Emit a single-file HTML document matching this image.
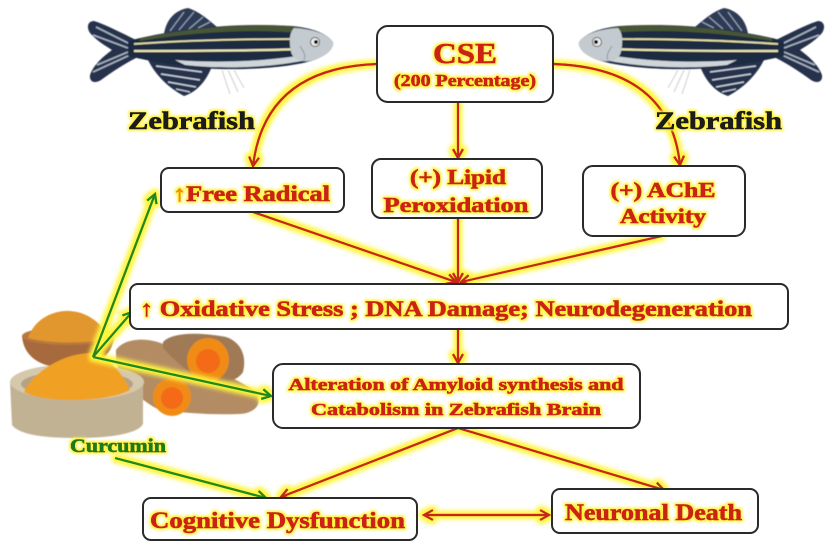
<!DOCTYPE html>
<html><head><meta charset="utf-8"><style>
html,body{margin:0;padding:0;background:#fff;}
svg{display:block;}
text{font-family:"Liberation Serif","DejaVu Serif",serif;font-weight:bold;}
</style></head><body>
<svg width="837" height="551" viewBox="0 0 837 551" xmlns="http://www.w3.org/2000/svg">
<defs>
<filter id="glow" filterUnits="userSpaceOnUse" x="0" y="0" width="837" height="551">
 <feMorphology in="SourceAlpha" operator="dilate" radius="3" result="d"/>
 <feGaussianBlur in="d" stdDeviation="2" result="b"/>
 <feFlood flood-color="#fff53a"/>
 <feComposite in2="b" operator="in" result="y"/>
 <feMerge><feMergeNode in="y"/><feMergeNode in="SourceGraphic"/></feMerge>
</filter>
<filter id="tglow" filterUnits="userSpaceOnUse" x="0" y="0" width="837" height="551">
 <feMorphology in="SourceAlpha" operator="dilate" radius="1.6" result="d"/>
 <feGaussianBlur in="d" stdDeviation="1.4" result="b"/>
 <feFlood flood-color="#fff23a"/>
 <feComposite in2="b" operator="in" result="y"/>
 <feMerge><feMergeNode in="y"/><feMergeNode in="SourceGraphic"/></feMerge>
</filter>
<filter id="soft"><feGaussianBlur stdDeviation="0.6"/></filter>
<marker id="ar" viewBox="-12 -7 14 14" refX="0" refY="0" markerWidth="14" markerHeight="14" markerUnits="userSpaceOnUse" orient="auto-start-reverse">
 <path d="M-9,-5 L0,0 L-9,5" fill="none" stroke="#c8261a" stroke-width="2.4"/>
</marker>
<marker id="ag" viewBox="-12 -7 14 14" refX="0" refY="0" markerWidth="14" markerHeight="14" markerUnits="userSpaceOnUse" orient="auto">
 <path d="M-9,-5 L0,0 L-9,5" fill="none" stroke="#1e8a1e" stroke-width="2.4"/>
</marker>
<g id="fish" filter="url(#soft)">
 <!-- tail -->
 <path d="M136,40 C120,32 104,24 94,21 C88,21 86,27 90,33 C98,42 106,46 112,50 C104,56 94,64 90,75 C89,82 95,84 101,80 C112,72 124,64 136,58 Z" fill="#26324c"/>
 <path d="M96,27 L132,45 M93,35 L128,48 M93,72 L130,55 M97,65 L128,52" stroke="#a8b4c2" stroke-width="1.6"/>
 <!-- dorsal -->
 <path d="M164,34 C166,20 175,10 188,8 C198,11 208,19 218,28 Z" fill="#2e3a54"/>
 <path d="M170,31 L184,12 M179,30 L194,12 M189,29 L203,17 M198,28 L210,22" stroke="#8e9cb0" stroke-width="1.3"/>
 <!-- anal fin -->
 <path d="M148,60 L212,66 C207,80 197,92 184,96 C167,87 155,74 148,60 Z" fill="#26324c"/>
 <path d="M156,66 L202,72 M161,74 L200,80 M168,82 L196,87 M176,89 L190,92" stroke="#c8d0da" stroke-width="1.4"/>
 <path d="M222,70 L230,94 M228,70 L238,92 M234,70 L244,88" stroke="#cfcfcf" stroke-width="1"/>
 <!-- body -->
 <path d="M128,41 C170,30 230,22 292,26 C312,28 326,33 333,42 C334,48 328,55 314,60 C290,68 240,71 200,68 C170,65 145,60 128,56 Z" fill="#1f2a42"/>
 <path d="M140,38 C190,28 250,22 300,27 L300,33 C255,29 200,31 140,41 Z" fill="#465636"/>
 <path d="M134,44 C190,40 250,39 300,39" stroke="#e6e0a4" stroke-width="1.8" fill="none"/>
 <path d="M134,51 C190,51 250,51 300,49" stroke="#ece6b0" stroke-width="2.2" fill="none"/>
 <path d="M175,60 C215,63 255,62 298,56 L302,61 C265,68 220,69 185,65 Z" fill="#cfd6da"/>
 <!-- head -->
 <path d="M294,28 C313,29 327,34 333,42 C334,48 328,55 314,60 C302,63 293,60 291,52 C289,42 289,33 294,28 Z" fill="#c4cbd0"/>
 <path d="M300,46 C304,52 306,56 304,60" stroke="#8e969c" stroke-width="1" fill="none"/>
 <circle cx="315" cy="42" r="4.5" fill="#f0f0f0" stroke="#555" stroke-width="1"/>
 <circle cx="316" cy="42" r="2" fill="#111"/>
</g>
</defs>

<!-- fishes -->
<use href="#fish"/>
<use href="#fish" transform="translate(912,0) scale(-1,1)"/>

<!-- turmeric -->
<g filter="url(#soft)">
 <!-- back bowl -->
 <path d="M22,336 C24,360 45,368 68,368 C95,368 112,358 114,336 Z" fill="#a66a3e"/>
 <ellipse cx="68" cy="336" rx="46" ry="9" fill="#b9783f"/>
 <path d="M28,338 C34,320 52,310 70,311 C88,312 102,324 110,338 C90,344 50,344 28,338 Z" fill="#e2962e"/>
 <!-- roots -->
 <path d="M116,350 C124,338 148,336 168,346 C200,362 236,378 256,392 C264,404 254,414 238,414 C212,415 184,413 160,410 C138,400 122,380 116,362 Z" fill="#b48c64"/>
 <path d="M163,342 C172,332 200,332 226,337 C241,342 247,356 243,372 C237,382 222,384 205,380 C189,374 174,360 163,348 Z" fill="#a07a54"/>
 <ellipse cx="208" cy="360" rx="21" ry="22" fill="#f08c16"/>
 <ellipse cx="208" cy="361" rx="12" ry="12" fill="#f46a12"/>
 <ellipse cx="172" cy="397" rx="19" ry="19" fill="#f08c16"/>
 <ellipse cx="172" cy="398" rx="11" ry="11" fill="#f46a12"/>
 <!-- front bowl -->
 <path d="M10,382 L12,425 C20,436 50,438 78,438 C108,438 138,434 143,424 L143,382 Z" fill="#c2b294"/>
 <ellipse cx="77" cy="382" rx="67" ry="18" fill="#d6c8ac"/>
 <ellipse cx="77" cy="384" rx="56" ry="13" fill="#b4a280"/>
 <path d="M24,392 C32,374 60,354 90,353 C108,356 122,372 130,390 C110,402 45,404 24,392 Z" fill="#f0a020"/>
</g>

<!-- connectors -->
<g filter="url(#glow)" fill="none">
 <g stroke="#c8261a" stroke-width="2.4">
  <path d="M377,64 Q265,68 253,166" marker-end="url(#ar)"/>
  <path d="M553,64 Q670,68 680,165" marker-end="url(#ar)"/>
  <path d="M458,102 L458,158" marker-end="url(#ar)"/>
  <path d="M253,212 L456,282" marker-end="url(#ar)"/>
  <path d="M458,218 L458,282" marker-end="url(#ar)"/>
  <path d="M662,236 L461,282" marker-end="url(#ar)"/>
  <path d="M458,329 L458,363" marker-end="url(#ar)"/>
  <path d="M458,428 L281,497" marker-end="url(#ar)"/>
  <path d="M458,428 L664,490" marker-end="url(#ar)"/>
  <path d="M424,515 L549,515" marker-start="url(#ar)" marker-end="url(#ar)"/>
 </g>
 <g stroke="#1e8a1e" stroke-width="2.4">
  <path d="M93,357 L155,194" marker-end="url(#ag)"/>
  <path d="M93,357 L132,312" marker-end="url(#ag)"/>
  <path d="M93,357 L271,396" marker-end="url(#ag)"/>
  <path d="M115,458 L266,498" marker-end="url(#ag)"/>
 </g>
</g>

<!-- boxes -->
<g fill="#fff" stroke="#2a2a2a" stroke-width="2">
 <rect x="377" y="26" width="176" height="76" rx="11"/>
 <rect x="161" y="168" width="183" height="44" rx="8"/>
 <rect x="372" y="159" width="170" height="59" rx="9"/>
 <rect x="583" y="166" width="162" height="70" rx="10"/>
 <rect x="130" y="284" width="658" height="45" rx="8"/>
 <rect x="273" y="364" width="367" height="64" rx="10"/>
 <rect x="143" y="498" width="274" height="42" rx="8"/>
 <rect x="552" y="489" width="206" height="44" rx="8"/>
</g>

<!-- text -->
<g filter="url(#tglow)" fill="#cc2418" stroke="#cc2418" stroke-width="0.7">
 <text x="465" y="63" font-size="29" text-anchor="middle" textLength="64" lengthAdjust="spacingAndGlyphs">CSE</text>
 <text x="465" y="86" font-size="17" text-anchor="middle" textLength="142" lengthAdjust="spacingAndGlyphs">(200 Percentage)</text>
 <text x="173" y="201" font-size="22" textLength="157" lengthAdjust="spacingAndGlyphs"><tspan fill="#f08c10" stroke="#f08c10">↑</tspan>Free Radical</text>
 <text x="458" y="184" font-size="21" text-anchor="middle" textLength="96" lengthAdjust="spacingAndGlyphs">(+) Lipid</text>
 <text x="456" y="212" font-size="21" text-anchor="middle" textLength="145" lengthAdjust="spacingAndGlyphs">Peroxidation</text>
 <text x="663" y="197" font-size="21" text-anchor="middle" textLength="105" lengthAdjust="spacingAndGlyphs">(+) AChE</text>
 <text x="663" y="223" font-size="21" text-anchor="middle" textLength="86" lengthAdjust="spacingAndGlyphs">Activity</text>
 <text x="140" y="316" font-size="22" textLength="612" lengthAdjust="spacingAndGlyphs">↑ Oxidative Stress ; DNA Damage; Neurodegeneration</text>
 <text x="456" y="390" font-size="17" text-anchor="middle" textLength="335" lengthAdjust="spacingAndGlyphs">Alteration of Amyloid synthesis and</text>
 <text x="456" y="415" font-size="17" text-anchor="middle" textLength="290" lengthAdjust="spacingAndGlyphs">Catabolism in Zebrafish Brain</text>
 <text x="150" y="528" font-size="23" textLength="255" lengthAdjust="spacingAndGlyphs">Cognitive Dysfunction</text>
 <text x="565" y="520" font-size="23" textLength="177" lengthAdjust="spacingAndGlyphs">Neuronal Death</text>
 <text x="128" y="129" font-size="25" fill="#1a1a1a" stroke="#1a1a1a" textLength="127" lengthAdjust="spacingAndGlyphs">Zebrafish</text>
 <text x="655" y="129" font-size="25" fill="#1a1a1a" stroke="#1a1a1a" textLength="127" lengthAdjust="spacingAndGlyphs">Zebrafish</text>
 <text x="70" y="452" font-size="19" fill="#1e7a1e" stroke="#1e7a1e" textLength="96" lengthAdjust="spacingAndGlyphs">Curcumin</text>
</g>
</svg>
</body></html>
